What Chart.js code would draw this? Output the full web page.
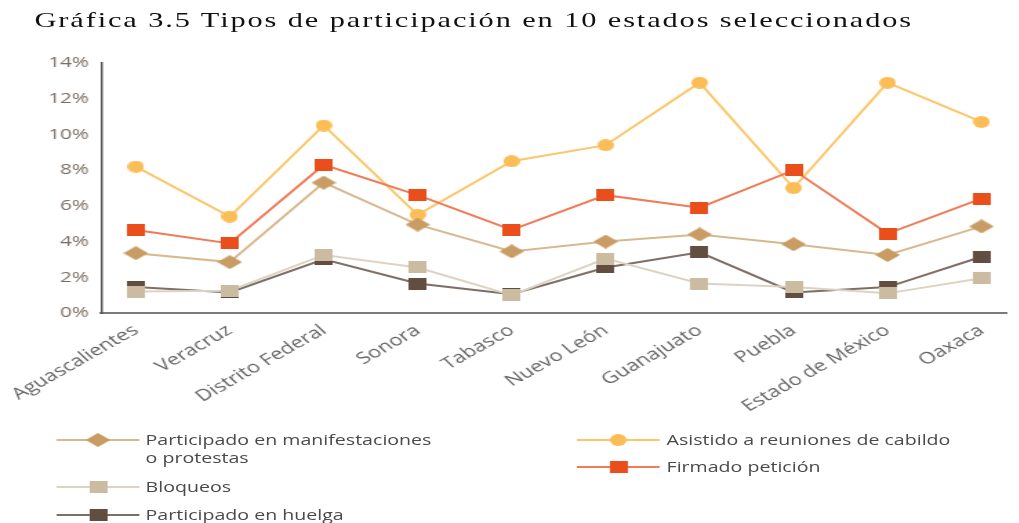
<!DOCTYPE html>
<html>
<head>
<meta charset="utf-8">
<script src="https://cdn.jsdelivr.net/npm/chart.js@4.4.1/dist/chart.umd.min.js"></script>
<style>
html, body { margin: 0; padding: 0; background: #fff; overflow: hidden; }
#stage { position: absolute; left: 0; top: 0; width: 738px; height: 523px; transform: scaleX(1.38); transform-origin: 0 0; }
#title { position: absolute; left: 25px; top: 8px; font-family: 'Liberation Serif', serif; font-size: 22px; letter-spacing: 1.37px; line-height: 24px; color: #111; white-space: nowrap; }
#chart { position: absolute; left: 0; top: 0; }
.legend-item { position: absolute; display: flex; align-items: flex-start; font-family: 'Open Sans', sans-serif; font-size: 14.2px; line-height: 18px; color: #4a4a4a; }
.legend-item canvas { display: block; margin-right: 5px; flex: none; }
</style>
</head>
<body>
<div id="stage">
	<div id="title">Gráfica 3.5 Tipos de participación en 10 estados seleccionados</div>
	<canvas id="chart" width="738" height="523"></canvas>
	<div id="legend"></div>
</div>
<script>
const stateLabels = ['Aguascalientes', 'Veracruz', 'Distrito Federal', 'Sonora', 'Tabasco', 'Nuevo León', 'Guanajuato', 'Puebla', 'Estado de México', 'Oaxaca'];

// valores en %
const manifestaciones = [3.35, 2.85, 7.3, 4.95, 3.45, 4.0, 4.4, 3.85, 3.25, 4.85];
const cabildo = [8.2, 5.4, 10.5, 5.5, 8.5, 9.4, 12.9, 7.0, 12.9, 10.7];
const peticion = [4.65, 3.9, 8.3, 6.6, 4.65, 6.6, 5.9, 8.0, 4.45, 6.4];
const bloqueos = [1.2, 1.25, 3.25, 2.55, 1.0, 3.05, 1.65, 1.45, 1.1, 1.95];
const huelga = [1.45, 1.15, 3.0, 1.65, 1.05, 2.55, 3.4, 1.15, 1.45, 3.15];

function makeMarker(shape, color, w, h) {
	const c = document.createElement('canvas');
	c.width = w;
	c.height = h;
	const ctx = c.getContext('2d');
	ctx.fillStyle = color;
	ctx.beginPath();
	if (shape === 'circle') {
		ctx.ellipse(w / 2, h / 2, w / 2, h / 2, 0, 0, Math.PI * 2);
	} else if (shape === 'diamond') {
		ctx.moveTo(w / 2, 0);
		ctx.lineTo(w, h / 2);
		ctx.lineTo(w / 2, h);
		ctx.lineTo(0, h / 2);
		ctx.closePath();
	} else {
		ctx.rect(0, 0, w, h);
	}
	ctx.fill();
	return c;
}

function makeSwatch(lineColor, marker) {
	const c = document.createElement('canvas');
	c.width = 60;
	c.height = 18;
	const ctx = c.getContext('2d');
	ctx.strokeStyle = lineColor;
	ctx.lineWidth = 2;
	ctx.beginPath();
	ctx.moveTo(0, 9);
	ctx.lineTo(60, 9);
	ctx.stroke();
	ctx.drawImage(marker, 30 - marker.width / 2, 9 - marker.height / 2);
	return c;
}

const series = [
	{ label: 'Bloqueos', data: bloqueos, line: '#ddd3c4', color: '#cbbba0', shape: 'square', w: 13, h: 12 },
	{ label: 'Participado en huelga', data: huelga, line: '#7d6e66', color: '#614e40', shape: 'square', w: 13, h: 12 },
	{ label: 'Firmado petición', data: peticion, line: '#ef7b57', color: '#e94e1b', shape: 'square', w: 13, h: 12 },
	{ label: 'Participado en manifestaciones o protestas', data: manifestaciones, line: '#d8b88f', color: '#c99c63', shape: 'diamond', w: 18, h: 14 },
	{ label: 'Asistido a reuniones de cabildo', data: cabildo, line: '#fcc66a', color: '#fbbd55', shape: 'circle', w: 12, h: 12 }
];

series.forEach(s => {
	s.marker = makeMarker(s.shape, s.color, s.w, s.h);
});

const datasets = series.map(s => ({
	label: s.label,
	data: s.data.map((v, i) => ({ x: i, y: v })),
	borderColor: s.line,
	borderWidth: 2,
	pointStyle: s.marker,
	pointRadius: 7,
	tension: 0,
	fill: false
}));

const tickFont = { family: 'Open Sans', size: 15 };

new Chart(document.getElementById('chart'), {
	type: 'line',
	data: { datasets: datasets },
	options: {
		responsive: false,
		animation: false,
		events: [],
		layout: { padding: { top: 63, left: 0, right: 0, bottom: 0 } },
		scales: {
			x: {
				type: 'linear',
				min: -0.366,
				max: 9.261,
				afterBuildTicks: scale => {
					scale.ticks = stateLabels.map((_, i) => ({ value: i }));
				},
				afterFit: scale => { scale.height = 210; },
				grid: { display: false, drawTicks: false },
				border: { display: true, color: '#7a7a7a', width: 2 },
				ticks: {
					autoSkip: false,
					minRotation: 37.7,
					maxRotation: 37.7,
					padding: 8,
					color: '#666',
					font: { family: 'Open Sans', size: 16 },
					callback: value => stateLabels[value] ?? ''
				}
			},
			y: {
				min: 0,
				max: 14,
				afterFit: scale => { scale.width = 70.3; },
				grid: { display: false, drawTicks: false },
				border: { display: true, color: '#555', width: 1.5 },
				ticks: {
					stepSize: 2,
					padding: 9,
					color: '#7a6e64',
					font: tickFont,
					callback: value => value + '%'
				}
			}
		},
		plugins: {
			legend: { display: false },
			tooltip: { enabled: false }
		}
	}
});

// leyenda en dos columnas, como en el original
const legendLayout = [
	{ idx: 3, left: 40.5, top: 431, text: 'Participado en manifestaciones<br>o protestas' },
	{ idx: 0, left: 40.5, top: 478, text: 'Bloqueos' },
	{ idx: 1, left: 40.5, top: 506, text: 'Participado en huelga' },
	{ idx: 4, left: 418, top: 431, text: 'Asistido a reuniones de cabildo' },
	{ idx: 2, left: 418, top: 458, text: 'Firmado petición' }
];

const legendEl = document.getElementById('legend');
legendLayout.forEach(item => {
	const s = series[item.idx];
	const div = document.createElement('div');
	div.className = 'legend-item';
	div.style.left = item.left + 'px';
	div.style.top = item.top + 'px';
	div.appendChild(makeSwatch(s.line, s.marker));
	const span = document.createElement('span');
	span.innerHTML = item.text;
	div.appendChild(span);
	legendEl.appendChild(div);
});
</script>
</body>
</html>
